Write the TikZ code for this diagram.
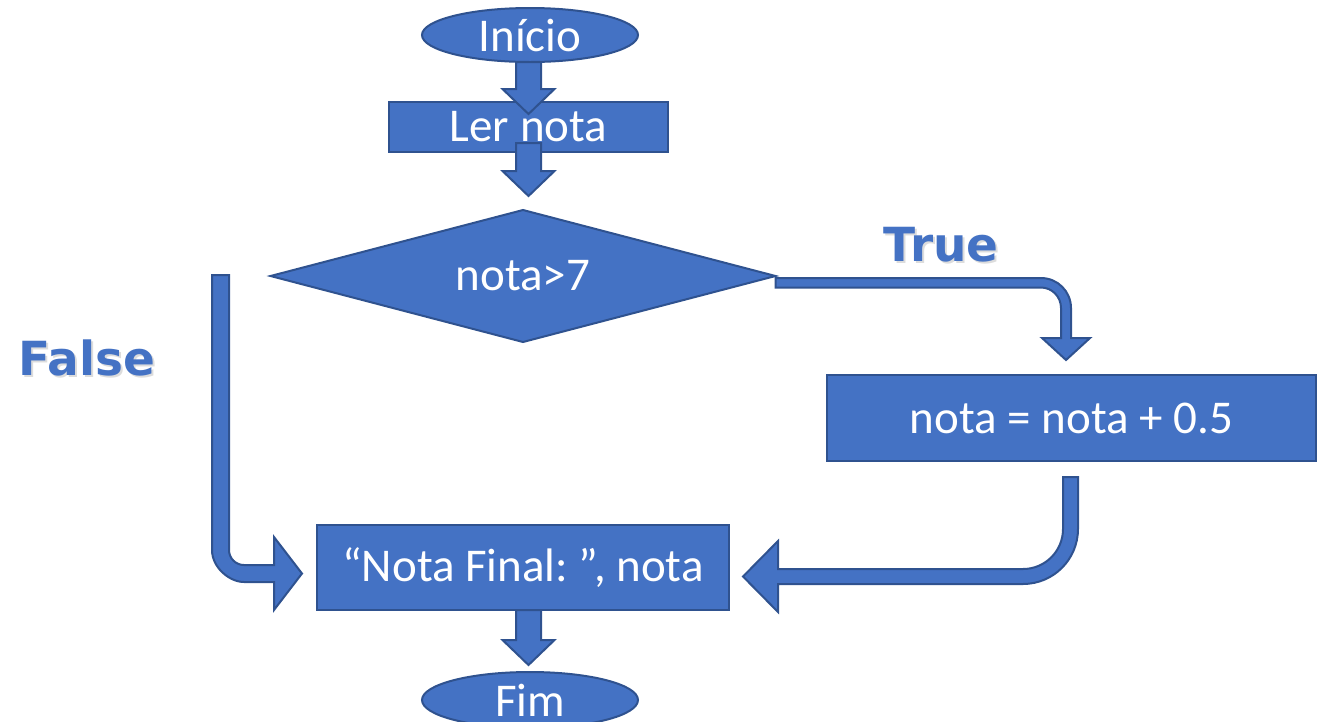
\documentclass[tikz,border=0pt]{standalone}
\usepackage{fontspec}
\setmainfont{Carlito}
\newfontfamily\labelfont{DejaVu Sans}
\usetikzlibrary{shapes.geometric,calc}

\definecolor{boxfill}{HTML}{4472C4}
\definecolor{boxline}{HTML}{2F528F}
\definecolor{shadowgray}{HTML}{8C8C8C}

\tikzset{
  base/.style={fill=boxfill, draw=boxline, line width=2pt, text=white,
    font=\fontsize{47}{50}\selectfont, inner sep=0pt, outer sep=0pt},
  terminal/.style={base, ellipse, minimum width=216pt, minimum height=54pt},
  process/.style={base, rectangle},
  decision/.style={base, diamond, aspect=3.83},
  blockarrow/.style={fill=boxfill, draw=boxline, line width=2pt, line join=miter},
  branchlabel/.style={font=\labelfont\bfseries\fontsize{47}{50}\selectfont,
    text=boxfill, inner sep=0pt},
  branchshadow/.style={branchlabel, text=shadowgray, opacity=0.3},
}

% straight downward block arrow: shaft starts at the height of #1,
% the tip lies at #2
\newcommand{\downblock}[2]{%
  \path[blockarrow] let \p1=#1, \p2=#2 in
    (\x2-12.5pt,\y1) -- (\x2+12.5pt,\y1) -- (\x2+12.5pt,\y2+25pt)
    -- (\x2+26pt,\y2+25pt) -- (\x2,\y2) -- (\x2-26pt,\y2+25pt)
    -- (\x2-12.5pt,\y2+25pt) -- cycle;}

\begin{document}
\begin{tikzpicture}[x=1pt,y=-1pt]
\useasboundingbox (0,0) rectangle (1317,721);

% flowchart blocks
\node[terminal] (inicio) at (530,35) {Início};
\node[process, minimum width=279pt, minimum height=50pt] (ler) at (528.5,127) {Ler nota};
\node[decision, minimum width=505pt, minimum height=132pt] (dec) at (523,276) {nota>7};
\node[process, minimum width=489pt, minimum height=86pt] (upd) at (1071.5,418) {nota = nota + 0.5};
\node[process, minimum width=412pt, minimum height=85pt] (final) at (523,567.5) {“Nota Final:\ ”, nota};
\node[terminal, minimum height=56pt] (fim) at (530,700) {Fim};

% branch labels with a soft drop shadow
\node[branchshadow] (trueshadow) at (943,247) {True};
\node[branchlabel] (truelbl) at (941,245) {True};
\node[branchshadow] (falseshadow) at (89,360) {False};
\node[branchlabel] (falselbl) at (87,358) {False};

% free upper end of the False branch
\coordinate (fstart) at (220.5,275);

% straight connectors
\downblock{(inicio.south)}{($(ler.north)+(0,12)$)}
\downblock{($(ler.south)+(0,-9)$)}{($(ler.south |- dec.north)+(0,-14)$)}
\downblock{(final.south)}{($(ler.south |- fim.north)+(0,-7)$)}

% True branch: right, then down into the update block
\path[blockarrow] let \p1=(dec.east), \p2=(upd.north) in
  (\x1,\y1-2pt) -- (\x2-30.5pt,\y1-2pt)
  .. controls (\x2-13.93pt,\y1-2pt) and (\x2-0.5pt,\y1-15.43pt) .. (\x2-0.5pt,\y1-32pt)
  -- (\x2-0.5pt,\y2+37pt) -- (\x2+18.5pt,\y2+37pt) -- (\x2-5.5pt,\y2+15pt)
  -- (\x2-29.5pt,\y2+37pt) -- (\x2-10.5pt,\y2+37pt) -- (\x2-10.5pt,\y1-32pt)
  .. controls (\x2-10.5pt,\y1-20.7pt) and (\x2-19.45pt,\y1-11.5pt) .. (\x2-30.5pt,\y1-11.5pt)
  -- (\x1,\y1-11.5pt) -- cycle;

% False branch: down, then right into the output block
\path[blockarrow] let \p1=(fstart), \p2=(final.west) in
  (\x1-8.5pt,\y1) -- (\x1-8.5pt,\y2+17.5pt)
  .. controls (\x1-8.5pt,\y2-0.17pt) and (\x1+9.17pt,\y2-14.5pt) .. (\x1+23.5pt,\y2-14.5pt)
  -- (\x2-43pt,\y2-14.5pt) -- (\x2-43pt,\y2-42.5pt) -- (\x2-15pt,\y2-6pt)
  -- (\x2-43pt,\y2+30.5pt) -- (\x2-43pt,\y2+2.5pt) -- (\x1+23.5pt,\y2+2.5pt)
  .. controls (\x1+15.22pt,\y2+2.5pt) and (\x1+8.5pt,\y2+9.22pt) .. (\x1+8.5pt,\y2+17.5pt)
  -- (\x1+8.5pt,\y1) -- cycle;

% join: down from the update block, then left into the output block
\path[blockarrow] let \p1=(upd.south), \p2=(final.east) in
  (\x1+6.5pt,\y1-16pt) -- (\x1+6.5pt,\y1-68pt)
  .. controls (\x1+6.5pt,\y1-98.38pt) and (\x1-18.12pt,\y2-16.5pt) .. (\x1-48.5pt,\y2-16.5pt)
  -- (\x2+49pt,\y2-16.5pt) -- (\x2+49pt,\y2-44.5pt) -- (\x2+14pt,\y2-9pt)
  -- (\x2+49pt,\y2+26.5pt) -- (\x2+49pt,\y2-1.5pt) -- (\x1-48.5pt,\y2-1.5pt)
  .. controls (\x1-26.41pt,\y2-1.5pt) and (\x1-8.5pt,\y1-90.09pt) .. (\x1-8.5pt,\y1-68pt)
  -- (\x1-8.5pt,\y1-16pt) -- cycle;
\end{tikzpicture}
\end{document}
